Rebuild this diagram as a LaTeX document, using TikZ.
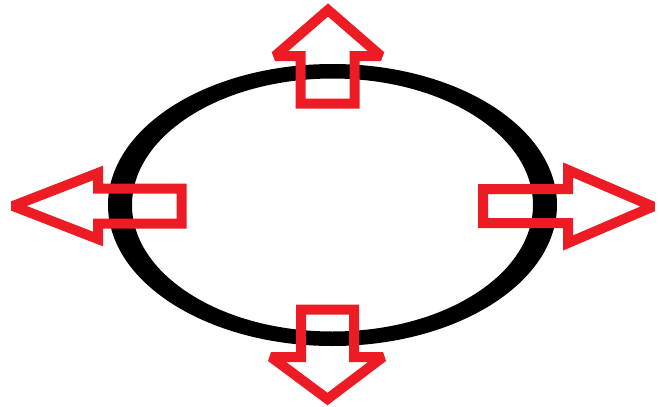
\documentclass[tikz,border=0pt]{standalone}
\definecolor{arrowred}{RGB}{237,28,36}
\tikzset{
  ring/.style={fill=black, even odd rule},
  blockarrow/.style={draw=arrowred, line width=10pt, line join=miter, miter limit=2}
}
\begin{document}
\begin{tikzpicture}[x=1pt,y=-1pt]
\useasboundingbox[fill=white] (0,0) rectangle (659,407);
% ring (filled band between two ellipses)
\coordinate (c) at (332.5,205);
\fill[ring] (c) ellipse [x radius=224.5pt, y radius=141pt]
            (c) ellipse [x radius=200.5pt, y radius=126.5pt];
% top arrow
\draw[blockarrow] (300.5,103.5) -- (300.5,56) -- (275,56) -- (328,10) -- (381,56) -- (354.5,56) -- (354.5,103.5) -- cycle;
% bottom arrow
\draw[blockarrow] (301,309.5) -- (301,357) -- (271,357) -- (327.5,399) -- (383,357) -- (354,357) -- (354,309.5) -- cycle;
% left arrow
\draw[blockarrow] (181.5,188.5) -- (98,188.5) -- (98,173) -- (13,206) -- (98,239) -- (98,223.5) -- (181.5,223.5) -- cycle;
% right arrow
\draw[blockarrow] (483,189) -- (568,189) -- (568,170) -- (653,206.5) -- (568,243) -- (568,223) -- (483,223) -- cycle;
\end{tikzpicture}
\end{document}
